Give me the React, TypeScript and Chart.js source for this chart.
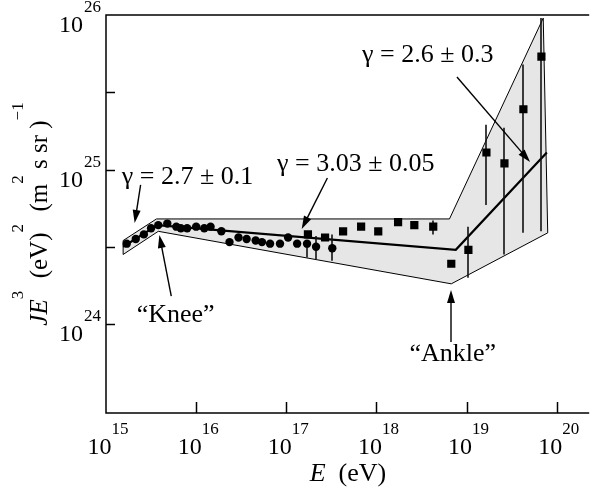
import React, { useEffect, useRef } from "react";
import { Chart, registerables } from "chart.js";

Chart.register(...registerables);

const FONT = '"Liberation Serif", "Times New Roman", Times, serif';

// log10(E / eV) and log10(J E^3)
const circleLogE = [15.23, 15.33, 15.42, 15.5, 15.58, 15.68, 15.78, 15.83, 15.9, 16.0, 16.09, 16.16, 16.28, 16.37, 16.47, 16.56, 16.66, 16.73, 16.82, 16.93, 17.02, 17.12, 17.23, 17.33, 17.51];
const circleLogJ = [24.52, 24.55, 24.58, 24.62, 24.64, 24.65, 24.63, 24.62, 24.62, 24.63, 24.62, 24.63, 24.6, 24.53, 24.56, 24.55, 24.54, 24.53, 24.52, 24.52, 24.56, 24.52, 24.52, 24.5, 24.49];
const circleErrLo = [null, null, null, null, null, null, null, null, null, null, null, null, null, null, null, null, null, null, null, null, null, null, 24.43, 24.42, 24.41];
const circleErrHi = [null, null, null, null, null, null, null, null, null, null, null, null, null, null, null, null, null, null, null, null, null, null, 24.54, 24.57, 24.58];

const squareLogE = [17.24, 17.43, 17.63, 17.83, 18.02, 18.24, 18.42, 18.63, 18.83, 19.02, 19.22, 19.42, 19.63, 19.83];
const squareLogJ = [24.58, 24.56, 24.6, 24.63, 24.6, 24.66, 24.64, 24.63, 24.39, 24.48, 25.11, 25.04, 25.39, 25.73];
const squareErrLo = [null, null, null, null, null, null, null, 24.58, null, 24.3, 24.77, 24.45, 24.59, 24.6];
const squareErrHi = [null, null, null, null, null, null, null, 24.67, null, 24.63, 25.29, 25.27, 25.68, 25.98];

const bandLogE = [15.19, 15.56, 18.81, 19.85, 19.9, 18.83, 15.58, 15.19, 15.19];
const bandLogJ = [24.54, 24.68, 24.68, 25.98, 24.59, 24.26, 24.6, 24.45, 24.54];

const fitLogE = [15.19, 15.57, 18.88, 19.89];
const fitLogJ = [24.5, 24.64, 24.48, 25.11];

const xLabelExps = [15, 16, 17, 18, 19, 20];
const xTickExps = [16, 17, 18, 19, 20];
const yLabelExps = [24, 25, 26];
const yTickExps = [24, 24.5, 25, 25.5];

const X_MIN = 15;
const X_MAX = 20.36;
const Y_MIN = 23.424;
const Y_MAX = 26;

const gammaTexts = ["γ = 2.7 ± 0.1", "γ = 3.03 ± 0.05", "γ = 2.6 ± 0.3", "“Knee”", "“Ankle”"];
const textAnchorLogE = [15.175, 16.897, 17.84, 15.34, 18.366];
const textAnchorLogJ = [24.951, 25.036, 25.741, 24.058, 23.806];

const arrowFromLogE = [15.384, 17.456, 18.893, 15.724, 18.827];
const arrowFromLogJ = [24.9, 24.945, 25.599, 24.181, 23.883];
const arrowToLogE = [15.318, 17.171, 19.704, 15.592, 18.827];
const arrowToLogJ = [24.654, 24.615, 25.049, 24.576, 24.22];

const pts = (lx: number[], ly: number[]) => lx.map((v, i) => ({ x: Math.pow(10, v), y: Math.pow(10, ly[i]) }));

type Part = { t: string; sup?: boolean; italic?: boolean };

function richWidth(ctx: CanvasRenderingContext2D, parts: Part[], main: number, sup: number) {
  let w = 0;
  for (const p of parts) {
    ctx.font = `${p.italic ? "italic " : ""}${p.sup ? sup : main}px ${FONT}`;
    w += ctx.measureText(p.t).width;
  }
  return w;
}

function drawRich(ctx: CanvasRenderingContext2D, parts: Part[], x: number, y: number, main: number, sup: number, raise: number) {
  let cx = x;
  ctx.textAlign = "left";
  ctx.textBaseline = "alphabetic";
  for (const p of parts) {
    ctx.font = `${p.italic ? "italic " : ""}${p.sup ? sup : main}px ${FONT}`;
    ctx.fillText(p.t, cx, p.sup ? y - raise : y);
    cx += ctx.measureText(p.t).width;
  }
}

function arrow(ctx: CanvasRenderingContext2D, x1: number, y1: number, x2: number, y2: number) {
  const ang = Math.atan2(y2 - y1, x2 - x1);
  const len = 13;
  const half = 4;
  ctx.beginPath();
  ctx.moveTo(x1, y1);
  ctx.lineTo(x2 - Math.cos(ang) * (len - 2), y2 - Math.sin(ang) * (len - 2));
  ctx.stroke();
  ctx.beginPath();
  ctx.moveTo(x2, y2);
  ctx.lineTo(x2 - Math.cos(ang) * len - Math.sin(ang) * half, y2 - Math.sin(ang) * len + Math.cos(ang) * half);
  ctx.lineTo(x2 - Math.cos(ang) * len + Math.sin(ang) * half, y2 - Math.sin(ang) * len - Math.cos(ang) * half);
  ctx.closePath();
  ctx.fill();
}

const decor = {
  id: "decor",
  afterDatasetDraw(chart: any, args: any) {
    if (args.index !== 1) return;
    const ctx: CanvasRenderingContext2D = chart.ctx;
    const xs = chart.scales.x;
    const ys = chart.scales.y;
    ctx.save();
    ctx.strokeStyle = "#111";
    ctx.lineWidth = 1.6;
    const bars = (le: number[], lo: (number | null)[], hi: (number | null)[]) => {
      le.forEach((e, i) => {
        const a = lo[i];
        const b = hi[i];
        if (a == null || b == null) return;
        const px = Math.round(xs.getPixelForValue(Math.pow(10, e)));
        ctx.beginPath();
        ctx.moveTo(px, ys.getPixelForValue(Math.pow(10, a)));
        ctx.lineTo(px, ys.getPixelForValue(Math.pow(10, b)));
        ctx.stroke();
      });
    };
    bars(circleLogE, circleErrLo, circleErrHi);
    bars(squareLogE, squareErrLo, squareErrHi);
    ctx.restore();
  },
  afterDraw(chart: any) {
    const ctx: CanvasRenderingContext2D = chart.ctx;
    const { left, right, top, bottom } = chart.chartArea;
    const xs = chart.scales.x;
    const ys = chart.scales.y;
    ctx.save();
    ctx.strokeStyle = "#000";
    ctx.fillStyle = "#000";
    ctx.lineWidth = 1.5;
    // axes
    ctx.beginPath();
    ctx.moveTo(right, top);
    ctx.lineTo(left, top);
    ctx.lineTo(left, bottom);
    ctx.lineTo(right, bottom);
    ctx.stroke();
    // ticks
    for (const e of yTickExps) {
      const y = Math.round(ys.getPixelForValue(Math.pow(10, e))) + 0.5;
      ctx.beginPath();
      ctx.moveTo(left, y);
      ctx.lineTo(left + 9, y);
      ctx.stroke();
    }
    for (const e of xTickExps) {
      const x = Math.round(xs.getPixelForValue(Math.pow(10, e))) + 0.5;
      ctx.beginPath();
      ctx.moveTo(x, bottom);
      ctx.lineTo(x, bottom - 11);
      ctx.stroke();
    }
    // tick labels
    for (const e of yLabelExps) {
      const y = ys.getPixelForValue(Math.pow(10, e));
      ctx.font = `24px ${FONT}`;
      ctx.textAlign = "right";
      ctx.textBaseline = "alphabetic";
      ctx.fillText("10", left - 23, y + 17);
      ctx.font = `17px ${FONT}`;
      ctx.textAlign = "left";
      ctx.fillText(String(e), left - 22, y - 3);
    }
    for (const e of xLabelExps) {
      const x = xs.getPixelForValue(Math.pow(10, e));
      const parts: Part[] = [{ t: "10" }, { t: String(e), sup: true }];
      const w = richWidth(ctx, parts, 24, 17);
      drawRich(ctx, parts, x - w / 2 + 2, bottom + 41, 24, 17, 20);
    }
    // axis titles
    {
      const parts: Part[] = [{ t: "E", italic: true }, { t: "  (eV)" }];
      const w = richWidth(ctx, parts, 26, 17);
      drawRich(ctx, parts, 348 - w / 2, bottom + 68, 26, 17, 0);
    }
    {
      const parts: Part[] = [
        { t: "JE", italic: true },
        { t: "3", sup: true },
        { t: "  (eV)" },
        { t: "2", sup: true },
        { t: "  (m" },
        { t: "2", sup: true },
        { t: " s sr )" },
        { t: "−1", sup: true },
      ];
      const w = richWidth(ctx, parts, 25, 17);
      ctx.save();
      ctx.translate(47, (top + bottom) / 2 + 0);
      ctx.rotate(-Math.PI / 2);
      drawRich(ctx, parts, -w / 2, 0, 25, 17, 24);
      ctx.restore();
    }
    // annotations
    ctx.font = `26px ${FONT}`;
    ctx.textAlign = "left";
    ctx.textBaseline = "middle";
    gammaTexts.forEach((t, i) => {
      ctx.fillText(t, xs.getPixelForValue(Math.pow(10, textAnchorLogE[i])), ys.getPixelForValue(Math.pow(10, textAnchorLogJ[i])));
    });
    ctx.lineWidth = 1.4;
    arrowFromLogE.forEach((e, i) => {
      arrow(
        ctx,
        xs.getPixelForValue(Math.pow(10, e)),
        ys.getPixelForValue(Math.pow(10, arrowFromLogJ[i])),
        xs.getPixelForValue(Math.pow(10, arrowToLogE[i])),
        ys.getPixelForValue(Math.pow(10, arrowToLogJ[i]))
      );
    });
    ctx.restore();
  },
};

export default function App() {
  const ref = useRef<HTMLCanvasElement | null>(null);
  useEffect(() => {
    if (!ref.current) return;
    const chart = new Chart(ref.current, {
      type: "scatter",
      data: {
        datasets: [
          {
            data: pts(bandLogE, bandLogJ),
            order: 10,
            showLine: true,
            fill: "shape",
            backgroundColor: "#e6e6e6",
            borderColor: "#000",
            borderWidth: 1,
            pointRadius: 0,
            tension: 0,
          } as any,
          {
            data: pts(fitLogE, fitLogJ),
            order: 9,
            showLine: true,
            fill: false,
            borderColor: "#000",
            borderWidth: 2.2,
            pointRadius: 0,
            tension: 0,
          },
          {
            data: pts(circleLogE, circleLogJ),
            order: 1,
            pointStyle: "circle",
            pointRadius: 4.2,
            backgroundColor: "#000",
            borderWidth: 0,
          },
          {
            data: pts(squareLogE, squareLogJ),
            order: 2,
            pointStyle: "rect",
            pointRadius: 5.8,
            backgroundColor: "#000",
            borderWidth: 0,
          },
        ],
      },
      options: {
        animation: false,
        responsive: false,
        devicePixelRatio: 1,
        layout: { padding: { left: 106, top: 15, right: 0, bottom: 82 } },
        plugins: { legend: { display: false }, tooltip: { enabled: false } },
        events: [],
        scales: {
          x: { type: "logarithmic", display: false, min: Math.pow(10, X_MIN), max: Math.pow(10, X_MAX) },
          y: { type: "logarithmic", display: false, min: Math.pow(10, Y_MIN), max: Math.pow(10, Y_MAX) },
        },
      },
      plugins: [decor],
    });
    return () => chart.destroy();
  }, []);
  return (
    <div style={{ position: "fixed", left: 0, top: 0, width: 595, height: 495, background: "#fff" }}>
      <canvas ref={ref} width={595} height={495} style={{ display: "block" }} />
    </div>
  );
}
